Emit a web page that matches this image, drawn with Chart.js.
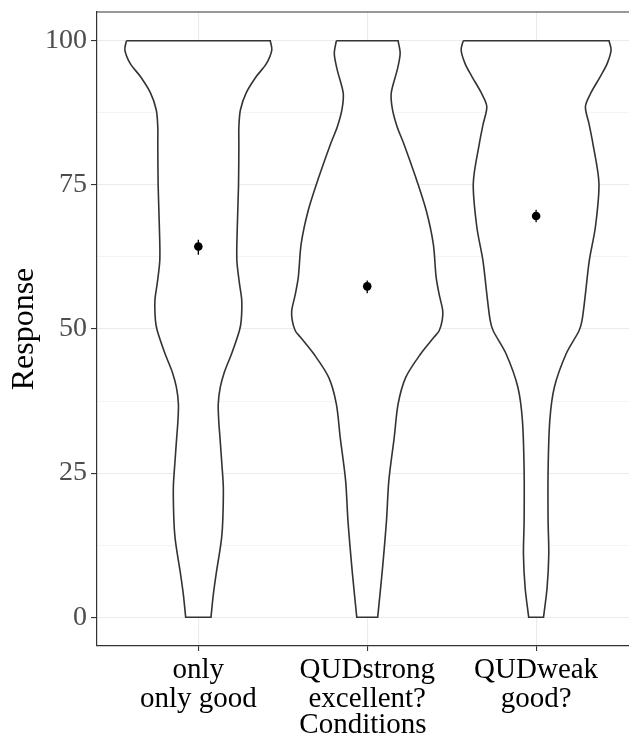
<!DOCTYPE html>
<html>
<head>
<meta charset="utf-8">
<script src="https://cdn.jsdelivr.net/npm/chart.js@4.4.1/dist/chart.umd.min.js"></script>
<style>
    body { margin: 0; background: #ffffff; }
    #wrap { width: 629px; height: 737px; }
</style>
</head>
<body>
<div id="wrap"><canvas id="chartViolin" width="629" height="737"></canvas></div>
<script>
const conditions = [['only', 'only good'], ['QUDstrong', 'excellent?'], ['QUDweak', 'good?']];
const yTicks = [0, 25, 50, 75, 100];
const yMinor = [12.5, 37.5, 62.5, 87.5];

// violin outlines: response level and half width (x units, 1 = one category)
const onlyLevels = [100, 98.4, 96, 93.8, 91, 88, 85, 82, 75, 68, 62, 58, 55, 51.5, 49.7, 45.7, 42.5, 39.9, 37, 34, 31.2, 26.7, 22.5, 17, 13.8, 10.9, 8, 4, 0];
const onlyWidth = [0.426, 0.435, 0.402, 0.343, 0.284, 0.249, 0.240, 0.240, 0.238, 0.231, 0.228, 0.243, 0.257, 0.254, 0.243, 0.197, 0.154, 0.130, 0.118, 0.121, 0.128, 0.139, 0.148, 0.145, 0.138, 0.124, 0.108, 0.089, 0.075];

const strongLevels = [100, 97.8, 95, 90.9, 88, 85, 82.2, 76.4, 70.6, 64.8, 59, 56, 53.2, 51.5, 49.7, 48.6, 45.7, 41.6, 37, 31.2, 23.7, 16.7, 8, 0];
const strongWidth = [0.183, 0.195, 0.178, 0.142, 0.150, 0.178, 0.216, 0.286, 0.349, 0.391, 0.408, 0.426, 0.447, 0.444, 0.426, 0.396, 0.317, 0.228, 0.183, 0.160, 0.128, 0.114, 0.089, 0.062];

const weakLevels = [100, 98.4, 96, 93.8, 91, 88.6, 85.5, 82.2, 75.3, 67.7, 61.9, 56.1, 51.5, 49.7, 45.7, 39.9, 34.1, 25.4, 16.7, 10.9, 5.1, 0];
const weakWidth = [0.432, 0.444, 0.420, 0.380, 0.325, 0.292, 0.314, 0.336, 0.372, 0.351, 0.315, 0.292, 0.272, 0.254, 0.178, 0.108, 0.081, 0.071, 0.071, 0.075, 0.065, 0.044];

const means = [64.3, 57.4, 69.6];
const errLow = [62.9, 56.2, 68.5];
const errHigh = [65.5, 58.4, 70.7];

const fonte = 'Liberation Serif, Times New Roman, serif';

// corner points are repeated so the spline keeps the flat top/bottom straight
function contorno(pos, levels, widths) {
    const esquerda = levels.map((y, i) => ({ x: pos - widths[i], y: y }));
    const direita = levels.map((y, i) => ({ x: pos + widths[i], y: y })).reverse();
    const n = esquerda.length - 1;
    return esquerda.concat([esquerda[n], direita[0]], direita, [direita[n], esquerda[0]]);
}

function violino(pos, levels, widths) {
    return {
        type: 'scatter',
        data: contorno(pos, levels, widths),
        showLine: true,
        tension: 0.3,
        borderColor: '#333333',
        borderWidth: 1.6,
        backgroundColor: '#ffffff',
        fill: 'shape',
        pointRadius: 0
    };
}

const barras = means.map((m, i) => ({
    type: 'scatter',
    data: [{ x: i + 1, y: errLow[i] }, { x: i + 1, y: errHigh[i] }],
    showLine: true,
    borderColor: '#000000',
    borderWidth: 1.3,
    pointRadius: 0
}));

const bordaTopo = {
    id: 'bordaTopo',
    afterDatasetsDraw(chart) {
        const { ctx, chartArea } = chart;
        ctx.save();
        ctx.strokeStyle = '#333333';
        ctx.lineWidth = 1.2;
        ctx.beginPath();
        ctx.moveTo(chartArea.left, chartArea.top);
        ctx.lineTo(chartArea.right, chartArea.top);
        ctx.stroke();
        ctx.restore();
    }
};

function semPadding(s) {
    s.paddingTop = 0;
    s.paddingBottom = 0;
    s.paddingLeft = 0;
    s.paddingRight = 0;
}

const ctxViolin = document.getElementById('chartViolin');
const chartViolin = new Chart(ctxViolin, {
    type: 'scatter',
    data: {
        datasets: [
            {
                data: means.map((m, i) => ({ x: i + 1, y: m })),
                backgroundColor: '#000000',
                borderWidth: 0,
                pointRadius: 4.3
            },
            ...barras,
            violino(1, onlyLevels, onlyWidth),
            violino(2, strongLevels, strongWidth),
            violino(3, weakLevels, weakWidth)
        ]
    },
    options: {
        responsive: false,
        animation: false,
        devicePixelRatio: 1,
        layout: { autoPadding: false, padding: { top: 12, left: 0, right: 0, bottom: 0 } },
        plugins: {
            legend: { display: false },
            tooltip: { enabled: false }
        },
        scales: {
            x: {
                type: 'linear',
                min: 0.4,
                max: 3.55,
                afterBuildTicks: s => { s.ticks = [1, 2, 3].map(v => ({ value: v })); },
                afterFit: s => { s.height = 91; semPadding(s); },
                grid: { color: '#EBEBEB', lineWidth: 1.1, tickColor: '#333333', tickLength: 5, tickWidth: 1.1 },
                border: { color: '#333333', width: 1.2 },
                ticks: {
                    color: '#000000',
                    autoSkip: false,
                    maxRotation: 0,
                    padding: 5,
                    font: { family: fonte, size: 29, lineHeight: 1.0 },
                    callback: v => conditions[v - 1]
                },
                title: {
                    display: true,
                    text: 'Conditions',
                    color: '#000000',
                    padding: 0,
                    font: { family: fonte, size: 29, lineHeight: 0.8 }
                }
            },
            y: {
                min: -5,
                max: 105,
                afterBuildTicks: s => {
                    s.ticks = yTicks.concat(yMinor).sort((a, b) => a - b).map(v => ({ value: v }));
                },
                afterFit: s => { s.width = 97; semPadding(s); },
                grid: {
                    color: '#EBEBEB',
                    lineWidth: c => yMinor.includes(c.tick.value) ? 0.55 : 1.1,
                    tickColor: c => yMinor.includes(c.tick.value) ? 'rgba(0,0,0,0)' : '#333333',
                    tickLength: 6,
                    tickWidth: 1.1
                },
                border: { color: '#333333', width: 1.2 },
                ticks: {
                    color: '#4D4D4D',
                    padding: 4,
                    font: { family: fonte, size: 28 },
                    callback: v => yTicks.includes(v) ? String(v) : ''
                },
                title: {
                    display: true,
                    text: 'Response',
                    color: '#000000',
                    padding: { top: 5, bottom: 0 },
                    font: { family: fonte, size: 32, lineHeight: 1.2 }
                }
            }
        }
    },
    plugins: [bordaTopo]
});
</script>
</body>
</html>
